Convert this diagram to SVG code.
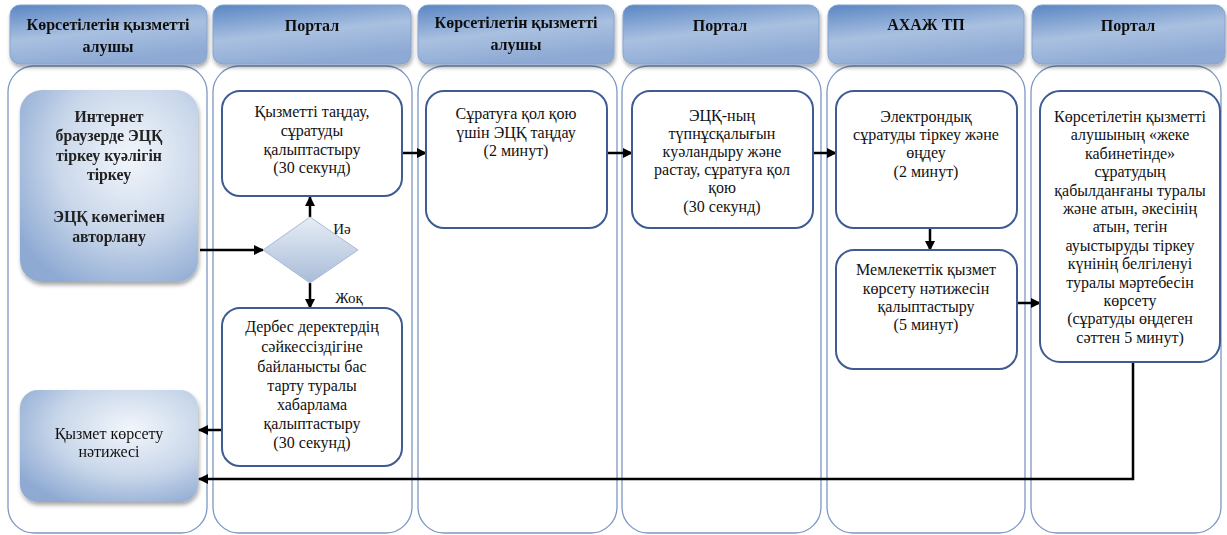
<svg xmlns="http://www.w3.org/2000/svg" width="1227" height="535" viewBox="0 0 1227 535">
<defs>
<linearGradient id="hdr" x1="0" y1="0" x2="0.35" y2="1">
<stop offset="0" stop-color="#5a86c4"/>
<stop offset="0.55" stop-color="#a9c0e0"/>
<stop offset="1" stop-color="#8eaad4"/>
</linearGradient>
<radialGradient id="soft" cx="0.62" cy="0.35" r="0.75">
<stop offset="0" stop-color="#f2f6fb"/>
<stop offset="0.55" stop-color="#c9d7ea"/>
<stop offset="1" stop-color="#8eaad3"/>
</radialGradient>
<linearGradient id="dia" x1="0" y1="0" x2="0" y2="1">
<stop offset="0" stop-color="#e6edf6"/>
<stop offset="1" stop-color="#a9bcd8"/>
</linearGradient>
<filter id="sh" x="-10%" y="-10%" width="130%" height="130%">
<feGaussianBlur in="SourceAlpha" stdDeviation="2"/>
<feOffset dx="1" dy="3" result="b"/>
<feComponentTransfer><feFuncA type="linear" slope="0.35"/></feComponentTransfer>
<feMerge><feMergeNode/><feMergeNode in="SourceGraphic"/></feMerge>
</filter>
<marker id="ah" markerUnits="userSpaceOnUse" markerWidth="10" markerHeight="10" refX="9" refY="5" orient="auto">
<path d="M0,0 L10,5 L0,10 z" fill="#000"/>
</marker>
</defs>
<style>
.lane{fill:#fff;stroke:#7d98c4;stroke-width:1.3}
.hdr{fill:url(#hdr);stroke:#86a2cc;stroke-width:1}
.ht{font-weight:bold;font-size:16px;fill:#111;text-anchor:middle}
.box{fill:#fff;stroke:#3e5c92;stroke-width:2}
.soft{fill:url(#soft);stroke:none}
.t{font-size:16px;fill:#111;text-anchor:middle}
.tb{font-size:15.8px;font-weight:bold;fill:#222;text-anchor:middle}
.c{fill:none;stroke:#000;stroke-width:2.5;marker-end:url(#ah)}
.lbl{font-size:15px;fill:#111;text-anchor:middle}
</style>

<g font-family="'Liberation Serif', 'Times New Roman', 'DejaVu Serif', serif">
<g id="lanes">
<rect class="lane" x="8" y="66" width="199" height="467" rx="26"/>
<rect class="lane" x="213" y="66" width="199" height="467" rx="26"/>
<rect class="lane" x="418" y="66" width="199" height="467" rx="26"/>
<rect class="lane" x="622" y="66" width="199" height="467" rx="26"/>
<rect class="lane" x="827" y="66" width="198" height="467" rx="26"/>
<rect class="lane" x="1031" y="66" width="190" height="467" rx="26"/>
</g>

<g id="headers">
<g id="h1" filter="url(#sh)"><rect class="hdr" x="10" y="5" width="197" height="59" rx="10"/>
<text class="ht" x="108" y="30">Көрсетілетін қызметті</text><text class="ht" x="108" y="52">алушы</text></g>
<g id="h2" filter="url(#sh)"><rect class="hdr" x="213" y="5" width="198" height="59" rx="10"/>
<text class="ht" x="312" y="31">Портал</text></g>
<g id="h3" filter="url(#sh)"><rect class="hdr" x="418" y="5" width="196" height="59" rx="10"/>
<text class="ht" x="516" y="28">Көрсетілетін қызметті</text><text class="ht" x="516" y="50">алушы</text></g>
<g id="h4" filter="url(#sh)"><rect class="hdr" x="623" y="5" width="196" height="59" rx="10"/>
<text class="ht" x="720" y="31">Портал</text></g>
<g id="h5" filter="url(#sh)"><rect class="hdr" x="828" y="5" width="196" height="59" rx="10"/>
<text class="ht" x="926" y="30">АХАЖ ТП</text></g>
<g id="h6" filter="url(#sh)"><rect class="hdr" x="1032" y="5" width="193" height="59" rx="10"/>
<text class="ht" x="1128" y="31">Портал</text></g>
</g>

<g id="connectors">
<path class="c" d="M200,250 L263,250"/>
<path class="c" d="M310,217 L310,197"/>
<path class="c" d="M310,283 L310,308"/>
<path class="c" d="M403,153 L426,153"/>
<path class="c" d="M607,153 L632,153"/>
<path class="c" d="M813,153 L836,153"/>
<path class="c" d="M930,228 L930,250"/>
<path class="c" d="M1017,303 L1040,303"/>
<path class="c" d="M222,430 L199,430"/>
<path class="c" d="M1133,362 L1133,479 L199,479"/>
<text class="lbl" x="342" y="234">Иә</text>
<text class="lbl" x="349" y="303">Жоқ</text>
</g>

<g id="nA" filter="url(#sh)">
<rect class="soft" x="20" y="90" width="178" height="192" rx="22"/>
<text class="tb"><tspan x="109" y="122">Интернет</tspan><tspan x="109" y="141">браузерде ЭЦҚ</tspan><tspan x="109" y="161">тіркеу куәлігін</tspan><tspan x="109" y="180">тіркеу</tspan><tspan x="109" y="222">ЭЦҚ көмегімен</tspan><tspan x="109" y="242">авторлану</tspan></text>
</g>

<g id="nB">
<rect class="box" x="222" y="91" width="180" height="105" rx="18"/>
<text class="t"><tspan x="312" y="117">Қызметті таңдау,</tspan><tspan x="312" y="136">сұратуды</tspan><tspan x="312" y="155">қалыптастыру</tspan><tspan x="312" y="173">(30 секунд)</tspan></text>
</g>

<g id="nDiamond">
<polygon points="310,217 358,250 310,283 263,250" fill="url(#dia)" stroke="#a8bad6" stroke-width="1"/>
</g>

<g id="nC">
<rect class="box" x="222" y="308" width="180" height="158" rx="18"/>
<text class="t"><tspan x="312" y="332">Дербес деректердің</tspan><tspan x="312" y="352">сәйкессіздігіне</tspan><tspan x="312" y="372">байланысты бас</tspan><tspan x="312" y="391">тарту туралы</tspan><tspan x="312" y="410">хабарлама</tspan><tspan x="312" y="429">қалыптастыру</tspan><tspan x="312" y="448">(30 секунд)</tspan></text>
</g>

<g id="nD" filter="url(#sh)">
<rect class="soft" x="20" y="390" width="178" height="112" rx="18"/>
<text class="t"><tspan x="109" y="439">Қызмет көрсету</tspan><tspan x="109" y="457">нәтижесі</tspan></text>
</g>

<g id="nE">
<rect class="box" x="426" y="91" width="181" height="137" rx="18"/>
<text class="t"><tspan x="516" y="119">Сұратуға қол қою</tspan><tspan x="516" y="138">үшін ЭЦҚ таңдау</tspan><tspan x="516" y="156">(2 минут)</tspan></text>
</g>

<g id="nF">
<rect class="box" x="632" y="91" width="181" height="137" rx="18"/>
<text class="t"><tspan x="722" y="121">ЭЦҚ-ның</tspan><tspan x="722" y="139">түпнұсқалығын</tspan><tspan x="722" y="157">куәландыру және</tspan><tspan x="722" y="175">растау, сұратуға қол</tspan><tspan x="722" y="193">қою</tspan><tspan x="722" y="212">(30 секунд)</tspan></text>
</g>

<g id="nG">
<rect class="box" x="836" y="91" width="181" height="137" rx="18"/>
<text class="t"><tspan x="926" y="122">Электрондық</tspan><tspan x="926" y="140">сұратуды тіркеу және</tspan><tspan x="926" y="158">өңдеу</tspan><tspan x="926" y="177">(2 минут)</tspan></text>
</g>

<g id="nH">
<rect class="box" x="836" y="250" width="181" height="119" rx="18"/>
<text class="t"><tspan x="926" y="275">Мемлекеттік қызмет</tspan><tspan x="926" y="294">көрсету нәтижесін</tspan><tspan x="926" y="312">қалыптастыру</tspan><tspan x="926" y="330">(5 минут)</tspan></text>
</g>

<g id="nI">
<rect class="box" x="1040" y="91" width="180" height="271" rx="20"/>
<text class="t"><tspan x="1130" y="122">Көрсетілетін қызметті</tspan><tspan x="1130" y="140.4">алушының «жеке</tspan><tspan x="1130" y="158.8">кабинетінде»</tspan><tspan x="1130" y="177.2">сұратудың</tspan><tspan x="1130" y="195.6">қабылданғаны туралы</tspan><tspan x="1130" y="214">және атын, әкесінің</tspan><tspan x="1130" y="232.4">атын, тегін</tspan><tspan x="1130" y="250.8">ауыстыруды тіркеу</tspan><tspan x="1130" y="269.2">күнінің белгіленуі</tspan><tspan x="1130" y="287.6">туралы мәртебесін</tspan><tspan x="1130" y="306">көрсету</tspan><tspan x="1130" y="324.4">(сұратуды өңдеген</tspan><tspan x="1130" y="342.8">сәттен 5 минут)</tspan></text>
</g>
</g>
</svg>
